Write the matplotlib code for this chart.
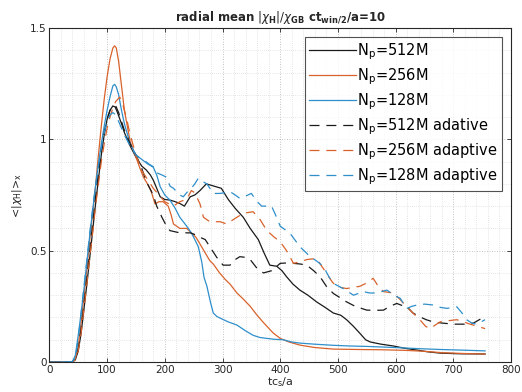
import matplotlib
matplotlib.use("Agg")
import matplotlib.pyplot as plt
from matplotlib.ticker import MultipleLocator

plt.rcParams['mathtext.fontset'] = 'dejavusans'
plt.rcParams['font.family'] = ['DejaVu Sans']

# ---- data ----
t_k = [0, 20, 40, 45, 50, 55, 60, 65, 70, 75, 80, 85, 90, 95, 100, 105, 110, 114, 118, 125, 130, 140, 150, 160,
       168, 175, 180, 186, 192, 200, 209, 218, 226, 234, 244, 252, 261, 272, 285, 298, 310, 322, 336, 348, 362,
       372, 382, 394, 403, 411, 422, 434, 448, 463, 478, 492, 505, 515, 527, 538, 548, 556, 575, 596, 615, 636,
       655, 677, 710, 755]
y_k = [0, 0, 0.0, 0.01, 0.05, 0.13, 0.24, 0.35, 0.47, 0.59, 0.71, 0.82, 0.93, 1.02, 1.09, 1.13, 1.15, 1.145,
       1.12, 1.07, 1.03, 0.97, 0.92, 0.88, 0.862, 0.84, 0.817, 0.78, 0.742, 0.73, 0.727, 0.72, 0.712, 0.70,
       0.742, 0.75, 0.77, 0.80, 0.79, 0.78, 0.73, 0.69, 0.65, 0.60, 0.55, 0.49, 0.435, 0.43, 0.41, 0.383, 0.35,
       0.323, 0.30, 0.27, 0.245, 0.22, 0.21, 0.19, 0.16, 0.129, 0.10, 0.09, 0.08, 0.072, 0.062, 0.054, 0.046,
       0.04, 0.037, 0.036]

t_o = [0, 20, 40, 45, 50, 55, 60, 65, 70, 75, 80, 85, 90, 95, 100, 105, 110, 113, 116, 120, 125, 130, 135, 140,
       150, 157, 163, 170, 176, 183, 190, 197, 206, 211, 215, 226, 238, 246, 254, 261, 270, 278, 284, 295, 305,
       313, 325, 337, 348, 360, 370, 377, 388, 400, 415, 434, 460, 492, 540, 577, 620, 650, 680, 720, 755]
y_o = [0, 0, 0.0, 0.015, 0.07, 0.18, 0.30, 0.42, 0.55, 0.67, 0.79, 0.93, 1.06, 1.18, 1.28, 1.36, 1.41, 1.42,
       1.41, 1.35, 1.24, 1.13, 1.06, 0.99, 0.92, 0.87, 0.83, 0.80, 0.77, 0.71, 0.72, 0.72, 0.70, 0.66, 0.62,
       0.60, 0.60, 0.58, 0.56, 0.53, 0.49, 0.455, 0.44, 0.40, 0.37, 0.35, 0.31, 0.28, 0.25, 0.21, 0.18, 0.16,
       0.13, 0.106, 0.09, 0.076, 0.065, 0.058, 0.056, 0.055, 0.052, 0.048, 0.042, 0.038, 0.036]

t_b = [0, 20, 40, 45, 50, 55, 60, 65, 70, 75, 80, 85, 90, 95, 100, 105, 110, 113, 116, 120, 125, 130, 140, 150,
       160, 170, 180, 186, 192, 200, 209, 218, 226, 238, 246, 252, 258, 264, 268, 273, 279, 284, 290, 296, 310,
       325, 340, 353, 365, 377, 390, 405, 420, 434, 460, 492, 520, 550, 580, 607, 640, 680, 720, 755]
y_b = [0, 0, 0.002, 0.03, 0.12, 0.22, 0.33, 0.45, 0.57, 0.68, 0.79, 0.89, 0.98, 1.06, 1.13, 1.19, 1.24, 1.247,
       1.235, 1.20, 1.13, 1.07, 0.98, 0.93, 0.91, 0.89, 0.875, 0.84, 0.787, 0.75, 0.727, 0.69, 0.65, 0.61,
       0.58, 0.55, 0.518, 0.45, 0.38, 0.34, 0.27, 0.22, 0.205, 0.197, 0.18, 0.166, 0.14, 0.12, 0.11, 0.106,
       0.102, 0.10, 0.09, 0.085, 0.08, 0.075, 0.072, 0.07, 0.067, 0.064, 0.06, 0.056, 0.053, 0.05]

t_kd = [0, 20, 40, 45, 50, 55, 60, 65, 70, 75, 80, 85, 90, 95, 100, 105, 110, 115, 120, 125, 130, 140, 150, 160,
        168, 174, 180, 186, 195, 203, 209, 226, 244, 255, 261, 270, 278, 290, 301, 313, 322, 330, 340, 348, 360,
        371, 385, 400, 412, 423, 435, 446, 458, 469, 480, 492, 503, 515, 530, 550, 565, 579, 590, 602, 610, 619,
        630, 642, 653, 665, 680, 700, 712, 723, 735, 745, 755]
y_kd = [0, 0, 0.0, 0.015, 0.06, 0.15, 0.26, 0.38, 0.50, 0.62, 0.74, 0.85, 0.95, 1.03, 1.09, 1.13, 1.15, 1.15,
        1.12, 1.08, 1.04, 0.98, 0.93, 0.87, 0.81, 0.78, 0.75, 0.70, 0.65, 0.61, 0.59, 0.58, 0.58, 0.57, 0.56,
        0.55, 0.518, 0.47, 0.435, 0.435, 0.46, 0.473, 0.47, 0.46, 0.42, 0.40, 0.41, 0.443, 0.445, 0.443, 0.44,
        0.435, 0.41, 0.383, 0.34, 0.308, 0.29, 0.27, 0.25, 0.233, 0.232, 0.233, 0.25, 0.263, 0.255, 0.25, 0.22,
        0.203, 0.19, 0.18, 0.175, 0.17, 0.17, 0.17, 0.175, 0.19, 0.203]

t_od = [0, 20, 40, 45, 50, 55, 60, 65, 70, 75, 80, 85, 90, 95, 100, 105, 110, 115, 122, 128, 135, 140, 150, 160,
        170, 180, 190, 200, 215, 226, 238, 246, 252, 261, 267, 278, 296, 307, 313, 325, 336, 353, 365, 377, 390,
        400, 411, 423, 435, 446, 463, 472, 480, 490, 498, 515, 527, 538, 550, 561, 570, 579, 596, 608, 619, 630,
        642, 652, 660, 668, 677, 690, 706, 718, 729, 742, 755]
y_od = [0, 0, 0.0, 0.01, 0.05, 0.13, 0.24, 0.35, 0.47, 0.58, 0.70, 0.80, 0.90, 0.98, 1.05, 1.10, 1.14, 1.17,
        1.19, 1.15, 1.08, 1.02, 0.93, 0.86, 0.82, 0.78, 0.75, 0.72, 0.70, 0.72, 0.73, 0.77, 0.76, 0.71, 0.65,
        0.63, 0.63, 0.62, 0.63, 0.65, 0.668, 0.675, 0.64, 0.59, 0.56, 0.54, 0.50, 0.443, 0.45, 0.46, 0.465,
        0.43, 0.40, 0.36, 0.338, 0.33, 0.335, 0.34, 0.355, 0.376, 0.34, 0.316, 0.31, 0.28, 0.248, 0.22, 0.19,
        0.16, 0.15, 0.165, 0.18, 0.185, 0.19, 0.18, 0.17, 0.16, 0.15]

t_bd = [0, 20, 40, 45, 50, 55, 60, 65, 70, 75, 80, 85, 90, 95, 100, 105, 110, 115, 120, 130, 140, 150, 157, 165,
        172, 180, 186, 195, 203, 209, 215, 226, 232, 241, 246, 252, 258, 266, 273, 284, 296, 313, 322, 330, 340,
        350, 360, 368, 385, 392, 400, 417, 425, 434, 452, 465, 475, 485, 492, 509, 527, 544, 555, 567, 585, 597,
        608, 619, 628, 637, 650, 665, 678, 689, 706, 715, 723, 732, 740, 748, 755]
y_bd = [0, 0, 0.002, 0.02, 0.10, 0.22, 0.34, 0.46, 0.58, 0.69, 0.79, 0.88, 0.96, 1.03, 1.08, 1.11, 1.12, 1.11,
        1.08, 1.02, 0.97, 0.93, 0.915, 0.905, 0.89, 0.877, 0.85, 0.84, 0.83, 0.79, 0.78, 0.75, 0.742, 0.77,
        0.78, 0.80, 0.825, 0.81, 0.80, 0.757, 0.757, 0.765, 0.75, 0.735, 0.745, 0.757, 0.72, 0.70, 0.70, 0.66,
        0.61, 0.578, 0.55, 0.518, 0.473, 0.45, 0.428, 0.38, 0.353, 0.33, 0.30, 0.316, 0.31, 0.31, 0.323, 0.30,
        0.286, 0.24, 0.25, 0.256, 0.26, 0.256, 0.245, 0.241, 0.248, 0.22, 0.19, 0.175, 0.17, 0.18, 0.19]

labels = [r'N$_{\mathrm{p}}$=512M', r'N$_{\mathrm{p}}$=256M', r'N$_{\mathrm{p}}$=128M',
          r'N$_{\mathrm{p}}$=512M adative', r'N$_{\mathrm{p}}$=256M adaptive', r'N$_{\mathrm{p}}$=128M adaptive']
x_ticks = [0, 100, 200, 300, 400, 500, 600, 700, 800]
y_ticks = [0, 0.5, 1, 1.5]
y_ticklabels = ['0', '0.5', '1', '1.5']

# ---- plot ----
BLACK = '#1a1a1a'
ORANGE = '#D9622B'
BLUE = '#2E8FCB'
TXT = '#262626'

fig = plt.figure(figsize=(5.22, 3.92), dpi=100)
ax = fig.add_axes([0.0946, 0.0765, 0.8844, 0.8521])

lw = 0.9
dash = (0, (8, 5.5))
ax.plot(t_k, y_k, color=BLACK, lw=lw, label=labels[0])
ax.plot(t_o, y_o, color=ORANGE, lw=lw, label=labels[1])
ax.plot(t_b, y_b, color=BLUE, lw=lw, label=labels[2])
ax.plot(t_kd, y_kd, color=BLACK, lw=lw, ls=dash, label=labels[3])
ax.plot(t_od, y_od, color=ORANGE, lw=lw, ls=dash, label=labels[4])
ax.plot(t_bd, y_bd, color=BLUE, lw=lw, ls=dash, label=labels[5])

ax.set_xlim(0, 800)
ax.set_ylim(0, 1.5)
ax.set_xticks(x_ticks)
ax.set_yticks(y_ticks)
ax.set_yticklabels(y_ticklabels)
ax.xaxis.set_minor_locator(MultipleLocator(20))
ax.yaxis.set_minor_locator(MultipleLocator(0.1))
ax.tick_params(which='major', direction='in', length=3, width=0.6, top=True, right=True,
               labelsize=7.5, colors=TXT, pad=2)
ax.tick_params(which='minor', length=0, top=True, right=True)
ax.grid(which='major', ls=(0, (1, 2)), color='#b0b0b0', lw=0.6)
ax.grid(which='minor', ls=(0, (1, 2)), color='#cfcfcf', lw=0.5)
for s in ax.spines.values():
    s.set_color(TXT)
    s.set_linewidth(0.8)

ax.set_xlabel(r'tc$_{\mathrm{s}}$/a', fontsize=8, color=TXT, labelpad=0)
ax.set_ylabel(r'<|$\chi_{\mathrm{H}}$|>$_{\mathrm{x}}$', fontsize=8, color=TXT, labelpad=4)
ax.set_title(r'radial mean $|\chi_{\mathbf{H}}|/\chi_{\mathbf{GB}}$ ct$_{\mathbf{win/2}}$/a=10',
             fontsize=8.5, fontweight='bold', color=TXT, pad=5)

leg = ax.legend(loc='upper right', fontsize=10.5, frameon=True, fancybox=False,
                edgecolor=TXT, borderaxespad=0.6, handlelength=3.2, handletextpad=0.1,
                labelspacing=0.3, borderpad=0.3)
leg.get_frame().set_linewidth(0.8)

fig.savefig('out.png', dpi=100)
